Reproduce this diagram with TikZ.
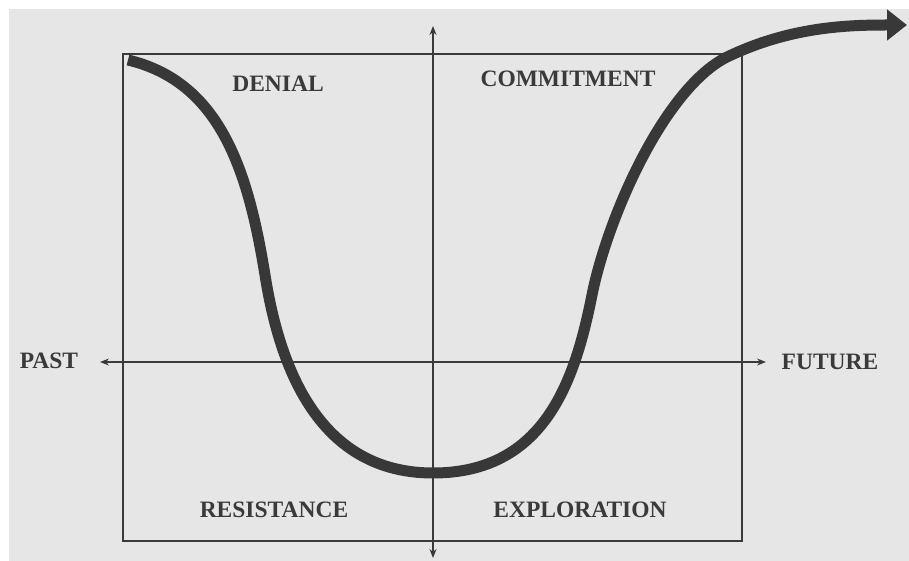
\documentclass[tikz,border=0pt]{standalone}
\usepackage{fontspec}
\setmainfont{Liberation Serif}
\usetikzlibrary{arrows.meta}
\definecolor{bgc}{HTML}{E6E6E6}
\definecolor{inkc}{HTML}{3A3A3A}
\definecolor{curvec}{HTML}{383838}
\begin{document}
\begin{tikzpicture}[x=1pt,y=-1pt,
  axis/.style={draw=inkc,line width=1.2pt,-{Stealth[length=9pt,width=7pt]}},
  lab/.style={text=inkc,font=\fontsize{23.5}{25}\selectfont\bfseries,inner sep=0pt}]
\useasboundingbox (0,0) rectangle (909,561);
\fill[white] (0,0) rectangle (909,561);
\fill[bgc] (9,9) rectangle (909,561);
% frame
\draw[inkc,line width=1.5pt] (123,54) rectangle (742,541);
% axes
\coordinate (vbot) at (433,558);
\coordinate (vtop) at (433,26);
\coordinate (hl) at (100,362);
\coordinate (hr) at (766,362);
\coordinate (cen) at (433,362);
\draw[axis] (cen) -- (vtop);
\draw[axis] (cen) -- (vbot);
\draw[axis] (cen) -- (hl);
\draw[axis] (cen) -- (hr);
% labels
\node[lab] (past) at (49,361) {PAST};
\node[lab] (future) at (830,362) {FUTURE};
\node[lab] (denial) at (278,84) {DENIAL};
\node[lab] (commit) at (568,79) {COMMITMENT};
\node[lab] (resist) at (274,510) {RESISTANCE};
\node[lab] (explor) at (580,510) {EXPLORATION};
% curve
\coordinate (c0) at (128,60);
\coordinate (c1) at (265,275);
\coordinate (c2) at (433,473);
\coordinate (c3) at (592,295);
\coordinate (c4) at (725,58);
\coordinate (c5) at (907,25);
\draw[curvec,line width=11pt,line join=round,-{Triangle[length=20pt,width=30pt]}]
  (c0) .. controls (220,82) and (248,170) .. (c1)
       .. controls (280,370) and (320,473) .. (c2)
       .. controls (545,473) and (575,380) .. (c3)
       .. controls (607,220) and (662,92) .. (c4)
       .. controls (790,26) and (850,25) .. (c5);
\end{tikzpicture}
\end{document}
